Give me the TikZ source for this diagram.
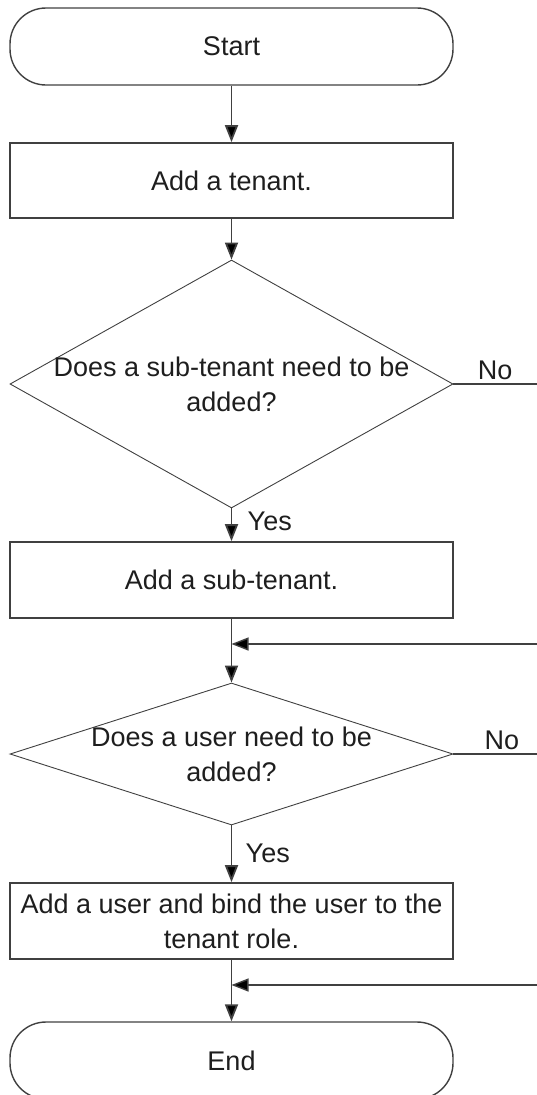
\documentclass[tikz,border=0pt]{standalone}
\usepackage{fontspec}
\setmainfont{Liberation Sans}
\usepackage{xcolor}
\usepackage{tikz}
\usetikzlibrary{shapes.geometric,arrows.meta}

\definecolor{flowline}{RGB}{64,64,64}
\definecolor{flowtext}{RGB}{30,30,30}

\begin{document}
\begin{tikzpicture}[x=1pt,y=-1pt,
  every node/.style={font=\fontsize{27}{35}\selectfont,text=flowtext},
  terminal/.style={draw=flowline,line width=1.4pt,rectangle,rounded corners=36pt,minimum width=443pt,minimum height=77pt},
  procbox/.style={draw=flowline,line width=1.6pt,rectangle,minimum width=443pt,minimum height=76pt,align=center},
  decision/.style={draw=flowline,line width=0.9pt,diamond,minimum width=443pt,inner sep=0pt},
  flow/.style={draw=flowline,line width=1.8pt,-{Triangle[length=17pt,width=13pt,fill=black]}},
  branch/.style={draw=flowline,line width=1.6pt}]
  \useasboundingbox (0,0) rectangle (537,1095);
  \node[terminal] (start) at (231.5,46.5) {Start};
  \node[procbox,minimum height=75pt] (tenant) at (231.5,180.5) {Add a tenant.};
  \node[decision,minimum height=248pt] (subq) at (231.5,384) {};
  \node[align=center] (subqtext) at (subq) {Does a sub-tenant need to be\\added?};
  \node[procbox] (subadd) at (231.5,580) {Add a sub-tenant.};
  \node[decision,minimum height=142pt] (usrq) at (231.5,754) {};
  \node[align=center] (usrqtext) at (usrq) {Does a user need to be\\added?};
  \node[procbox] (usradd) at (231.5,921) {Add a user and bind the user to the\\tenant role.};
  \node[terminal] (end) at (231.5,1060.5) {End};
  \coordinate (subqno) at (537,384);
  \coordinate (usrqno) at (537,754);
  \coordinate (join1) at (537,644);
  \coordinate (join2) at (537,985);
  % main path
  \draw[flow] (start) -- (tenant);
  \draw[flow] (tenant) -- (subq);
  \draw[flow] (subq) -- node[right,pos=0.4,xshift=12pt] (yes1) {Yes} (subadd);
  \draw[flow] (subadd) -- (usrq);
  \draw[flow] (usrq) -- node[right,pos=0.5,xshift=10pt] (yes2) {Yes} (usradd);
  \draw[flow] (usradd) -- (end);
  % no branches
  \draw[branch] (subq.east) -- node[above,pos=0.5] (no1) {No} (subqno);
  \draw[branch] (usrq.east) -- node[above,pos=0.58] (no2) {No} (usrqno);
  \draw[flow,line width=1.4pt] (join1) -- (subadd.south |- join1);
  \draw[flow,line width=1.4pt] (join2) -- (usradd.south |- join2);
\end{tikzpicture}
\end{document}
